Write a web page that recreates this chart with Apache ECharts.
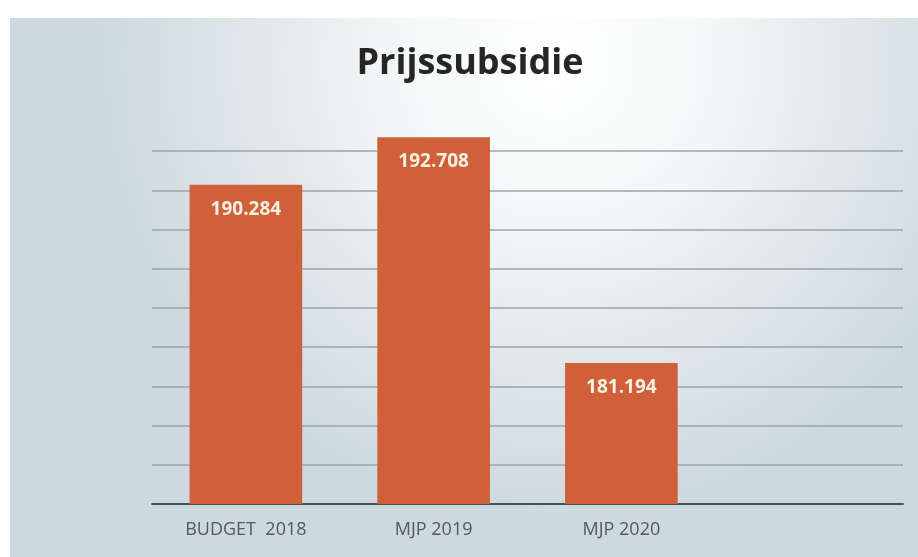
<!DOCTYPE html>
<html>
<head>
<meta charset="utf-8">
<script src="https://cdn.jsdelivr.net/npm/echarts@6/dist/echarts.min.js"></script>
<style>
html,body{margin:0;padding:0;background:#ffffff;}
#chart{width:918px;height:557px;}
</style>
</head>
<body>
<div id="chart"></div>
<script>
const categories = ['BUDGET  2018', 'MJP 2019', 'MJP 2020', ''];
const values = [190284, 192708, 181194, null];
const titleText = 'Prijssubsidie';
const yMin = 174000;
const yMax = 194000;
const yStep = 2000;

function fmt(v) {
  return String(v).replace(/\B(?=(\d{3})+(?!\d))/g, '.');
}

const chart = echarts.init(document.getElementById('chart'), null, {renderer: 'canvas'});
chart.setOption({
  backgroundColor: '#ffffff',
  graphic: [{
    type: 'rect',
    z: -10,
    silent: true,
    shape: {x: 10, y: 18, width: 908, height: 539},
    style: {
      fill: {
        type: 'radial', x: 0.6, y: 0.08, r: 0.85,
        colorStops: [
          {offset: 0, color: '#ffffff'},
          {offset: 0.3, color: '#f6f9f9'},
          {offset: 0.65, color: '#e1e8ea'},
          {offset: 1, color: '#ccd9e0'}
        ]
      }
    }
  }],
  title: {
    text: titleText,
    left: 465,
    textAlign: 'center',
    top: 41,
    textStyle: {
      fontFamily: 'Open Sans',
      fontWeight: 'bold',
      fontSize: 36,
      color: '#262626'
    }
  },
  grid: {left: 152, right: 15, top: 112, bottom: 53},
  xAxis: {
    type: 'category',
    data: categories,
    axisTick: {show: false},
    axisLine: {lineStyle: {color: '#4b5256', width: 2}},
    axisLabel: {
      color: '#55595c',
      fontFamily: 'Open Sans',
      fontSize: 18,
      margin: 17
    }
  },
  yAxis: {
    type: 'value',
    min: yMin,
    max: yMax,
    interval: yStep,
    axisLabel: {show: false},
    axisLine: {show: false},
    axisTick: {show: false},
    splitLine: {showMaxLine: false, lineStyle: {color: '#9ba5aa', width: 1.5}}
  },
  series: [{
    type: 'bar',
    data: values,
    barWidth: '60%',
    itemStyle: {color: '#d0603a'},
    label: {
      show: true,
      position: 'insideTop',
      distance: 15,
      formatter: p => fmt(p.value),
      color: '#fbf0e2',
      fontFamily: 'Open Sans',
      fontWeight: 'bold',
      fontSize: 19
    }
  }]
});
</script>
</body>
</html>
